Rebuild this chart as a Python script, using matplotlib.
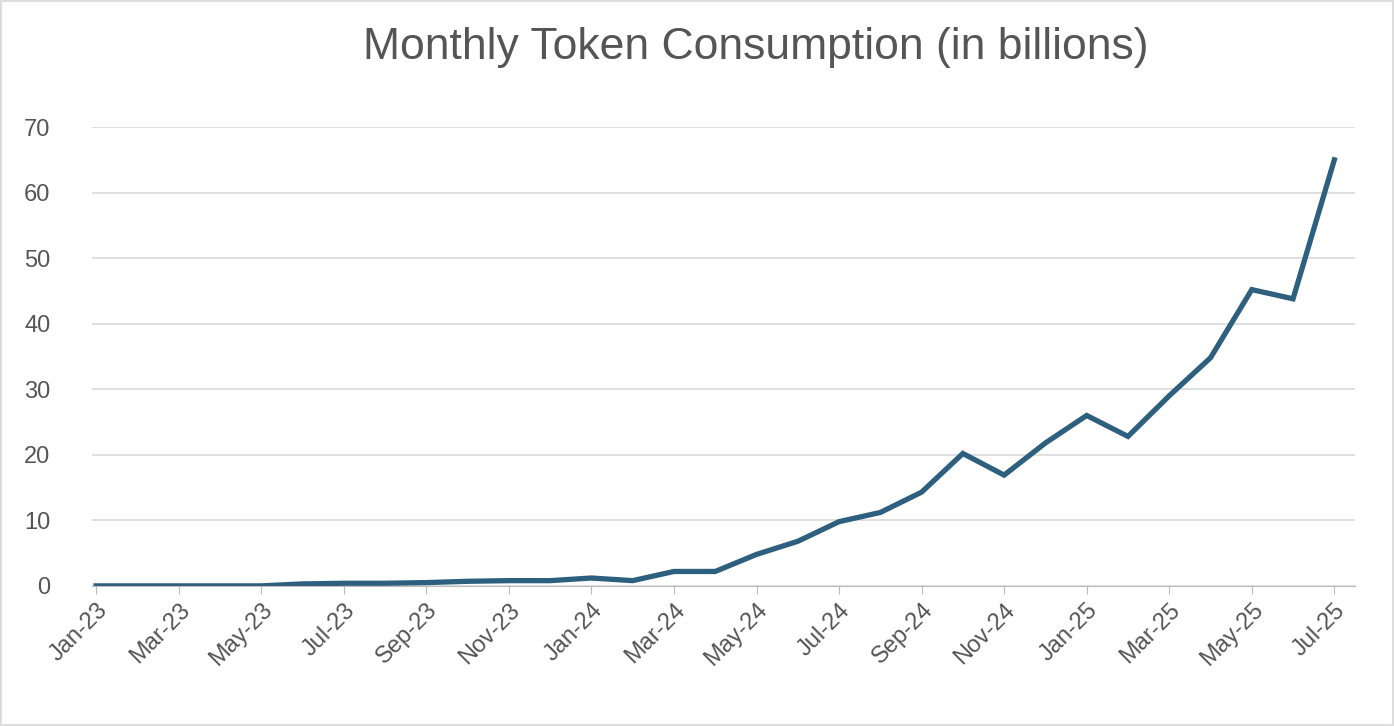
import matplotlib
matplotlib.use("Agg")
import matplotlib.pyplot as plt
plt.rcParams["font.family"] = "Liberation Sans"

months = ["Jan-23","Feb-23","Mar-23","Apr-23","May-23","Jun-23","Jul-23","Aug-23","Sep-23","Oct-23","Nov-23","Dec-23",
          "Jan-24","Feb-24","Mar-24","Apr-24","May-24","Jun-24","Jul-24","Aug-24","Sep-24","Oct-24","Nov-24","Dec-24",
          "Jan-25","Feb-25","Mar-25","Apr-25","May-25","Jun-25","Jul-25"]
tokens = [0, 0, 0, 0, 0, 0.3, 0.4, 0.4, 0.5, 0.7, 0.8, 0.8,
          1.2, 0.8, 2.2, 2.2, 4.8, 6.8, 9.8, 11.2, 14.3, 20.2, 16.9, 21.8,
          26.0, 22.8, 29.0, 34.8, 45.2, 43.8, 65.0]
yticks = [0, 10, 20, 30, 40, 50, 60, 70]

fig = plt.figure(figsize=(13.94, 7.26), dpi=100)
fig.patches.append(plt.Rectangle((0.001, 0.001), 0.998, 0.998, transform=fig.transFigure,
                                 fill=False, edgecolor="#dddddd", linewidth=1.5))
ax = fig.add_axes([0.066, 0.193, 0.906, 0.632])
x = list(range(len(months)))
ax.plot(x, tokens, color="#2d5f7f", linewidth=3.8, solid_joinstyle="miter")
ax.set_xlim(-0.1, 30.5)
ax.set_ylim(0, 70)
ax.set_yticks(yticks)
ax.set_xticks(x[::2])
ax.set_xticklabels(months[::2], rotation=45, ha="right", rotation_mode="anchor")
ax.grid(axis="y", color="#d9d9d9", linewidth=1.2)
ax.set_axisbelow(True)
for s in ["top", "right", "left"]:
    ax.spines[s].set_visible(False)
ax.spines["bottom"].set_color("#bbbbbb")
ax.tick_params(axis="y", length=0, labelsize=17, labelcolor="#555555", pad=30)
ax.tick_params(axis="x", length=6, color="#bbbbbb", labelsize=17, labelcolor="#555555")
fig.text(0.542, 0.935, "Monthly Token Consumption (in billions)", ha="center", va="center",
         fontsize=32, color="#555555")
fig.savefig("out.png", dpi=100)
